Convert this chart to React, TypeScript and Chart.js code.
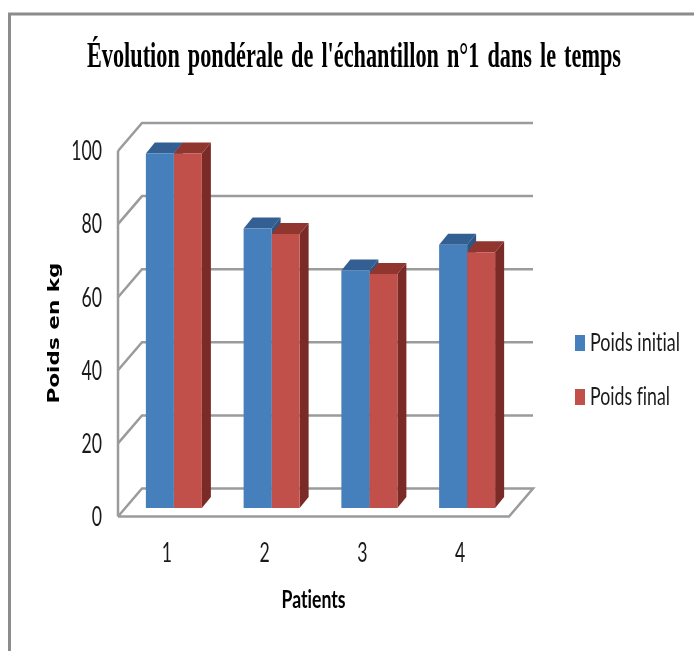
import React, { useEffect, useRef } from "react";
import { Chart, registerables } from "chart.js";

Chart.register(...registerables);

const categories = ["1", "2", "3", "4"];
const poidsInitial = [97, 76.5, 65, 72];
const poidsFinal = [97, 75, 64, 70];
const seriesNames = ["Poids initial", "Poids final"];
const frontColors = ["#4580BC", "#C2504A"];
const topColors = ["#345F93", "#91352F"];
const sideColors = ["#2F5583", "#7B2B27"];
const yTicks = [0, 20, 40, 60, 80, 100];
const titleText = "Évolution pondérale de l'échantillon n°1 dans le temps";
const yTitle = "Poids en kg";
const xTitle = "Patients";

const GRID = "#9B9B9B";
const WALL_DX = 24;
const WALL_DY = -28;
const BAR_SHIFT_X = 7;
const BAR_SHIFT_Y = -8.5;
const DEPTH_X = 9;
const DEPTH_Y = -11;
const SANS = 'Lato, "Liberation Sans", sans-serif';
const TICK_FONT = "26px " + SANS;
const TICK_SQUEEZE = 0.68;

function fitText(ctx: any, text: string, cx: number, cy: number, width: number, font: string, color: string, rotate = 0, wordGap = 0) {
  ctx.save();
  ctx.font = font;
  ctx.fillStyle = color;
  ctx.textAlign = "center";
  ctx.textBaseline = "middle";
  ctx.textRendering = "optimizeSpeed";
  ctx.wordSpacing = wordGap + "px";
  ctx.translate(cx, cy);
  if (rotate) ctx.rotate(rotate);
  ctx.scale(width / ctx.measureText(text).width, 1);
  ctx.fillText(text, 0, 0);
  ctx.restore();
}

function squeezeText(ctx: CanvasRenderingContext2D, text: string, x: number, y: number, align: CanvasTextAlign) {
  ctx.save();
  ctx.font = TICK_FONT;
  ctx.fillStyle = "#1A1A1A";
  ctx.textAlign = align;
  ctx.textBaseline = "middle";
  ctx.translate(x, y);
  ctx.scale(TICK_SQUEEZE, 1);
  ctx.fillText(text, 0, 0);
  ctx.restore();
}

const decor = {
  id: "decor",
  beforeDraw(chart: any) {
    const { ctx, width, height, scales } = chart;
    ctx.save();
    ctx.fillStyle = "#fff";
    ctx.fillRect(0, 0, width, height);
    ctx.strokeStyle = "#8C8C8C";
    ctx.lineWidth = 3;
    ctx.beginPath();
    ctx.moveTo(9.5, height);
    ctx.lineTo(9.5, 14);
    ctx.lineTo(width, 14);
    ctx.stroke();
    ctx.restore();
    fitText(ctx, titleText, 354, 58, 534, 'bold 36px "Liberation Serif", serif', "#000", 0, 4);
    fitText(ctx, yTitle, 55, 333, 141, 'bold 16px "DejaVu Sans", sans-serif', "#000", -Math.PI / 2);
    fitText(ctx, xTitle, 313.5, 600, 64, "bold 24px " + SANS, "#000");
    chart.data.datasets.forEach((d: any, i: number) => {
      const y = [343, 397][i];
      ctx.fillStyle = d.backgroundColor;
      ctx.fillRect(575, y - 8, 10, 16);
    });
    fitText(ctx, seriesNames[0], 635, 343, 90, "25px " + SANS, "#1A1A1A");
    fitText(ctx, seriesNames[1], 630, 397, 80, "25px " + SANS, "#1A1A1A");
    scales.y.ticks.forEach((t: any) => {
      squeezeText(ctx, String(t.value), 102, scales.y.getPixelForValue(t.value) + 1, "right");
    });
    categories.forEach((c, i) => {
      squeezeText(ctx, c, scales.x.getPixelForTick(i), 554, "center");
    });
  },
  beforeDatasetsDraw(chart: any) {
    const { ctx, chartArea: a, scales } = chart;
    const y = scales.y;
    ctx.save();
    ctx.strokeStyle = GRID;
    ctx.lineWidth = 2.5;
    yTicks.forEach((v) => {
      const p = y.getPixelForValue(v);
      ctx.beginPath();
      ctx.moveTo(a.left, p);
      ctx.lineTo(a.left + WALL_DX, p + WALL_DY);
      ctx.lineTo(a.right + WALL_DX, p + WALL_DY);
      if (v === 0) {
        ctx.lineTo(a.right, p);
        ctx.lineTo(a.left, p);
      }
      ctx.stroke();
    });
    ctx.beginPath();
    ctx.moveTo(a.left, a.top);
    ctx.lineTo(a.left, a.bottom);
    ctx.stroke();
    ctx.restore();

    ctx.save();
    ctx.translate(BAR_SHIFT_X, BAR_SHIFT_Y);
    chart.data.datasets.forEach((_: any, i: number) => {
      chart.getDatasetMeta(i).data.forEach((bar: any) => {
        const { x, y: top, base, width } = bar.getProps(["x", "y", "base", "width"], true);
        const l = x - width / 2;
        const r = x + width / 2;
        ctx.fillStyle = topColors[i];
        ctx.beginPath();
        ctx.moveTo(l, top);
        ctx.lineTo(l + DEPTH_X, top + DEPTH_Y);
        ctx.lineTo(r + DEPTH_X, top + DEPTH_Y);
        ctx.lineTo(r, top);
        ctx.closePath();
        ctx.fill();
        ctx.fillStyle = sideColors[i];
        ctx.beginPath();
        ctx.moveTo(r, top);
        ctx.lineTo(r + DEPTH_X, top + DEPTH_Y);
        ctx.lineTo(r + DEPTH_X, base + DEPTH_Y);
        ctx.lineTo(r, base);
        ctx.closePath();
        ctx.fill();
      });
    });
  },
  afterDatasetsDraw(chart: any) {
    chart.ctx.restore();
  },
};

export default function App() {
  const ref = useRef<HTMLCanvasElement>(null);
  useEffect(() => {
    const chart = new Chart(ref.current as HTMLCanvasElement, {
      type: "bar",
      data: {
        labels: categories,
        datasets: [
          { label: seriesNames[0], data: poidsInitial, backgroundColor: frontColors[0], borderWidth: 0, clip: false },
          { label: seriesNames[1], data: poidsFinal, backgroundColor: frontColors[1], borderWidth: 0, clip: false },
        ],
      } as any,
      options: {
        animation: false,
        responsive: false,
        layout: { padding: { left: 0, right: 185, top: 151, bottom: 20 } },
        datasets: { bar: { categoryPercentage: 0.573, barPercentage: 1 } },
        plugins: { legend: { display: false }, title: { display: false }, tooltip: { enabled: false } },
        scales: {
          x: {
            grid: { display: false, drawTicks: false },
            border: { display: false },
            ticks: { display: false },
            afterFit: (s: any) => { s.height = 114.5; },
          },
          y: {
            min: 0,
            max: 100,
            grid: { display: false, drawTicks: false },
            border: { display: false },
            ticks: { display: false, stepSize: 20 },
            afterFit: (s: any) => { s.width = 118; },
          },
        },
      } as any,
      plugins: [decor],
    });
    return () => chart.destroy();
  }, []);
  return (
    <div style={{ position: "fixed", left: 0, top: 0, width: 694, height: 651 }}>
      <canvas ref={ref} width={694} height={651} style={{ display: "block" }} />
    </div>
  );
}
